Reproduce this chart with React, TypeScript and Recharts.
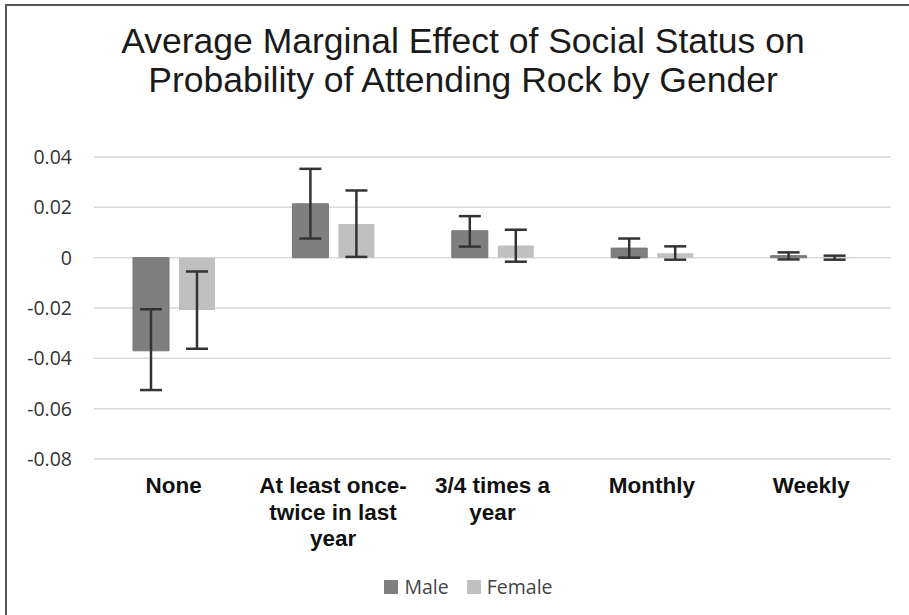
import React from "react";
import { BarChart, Bar, XAxis, YAxis, CartesianGrid, ErrorBar, Legend } from "recharts";

const categories = [
  "None",
  "At least once-\ntwice in last\nyear",
  "3/4 times a\nyear",
  "Monthly",
  "Weekly",
];
const maleValues = [-0.037, 0.0214, 0.0107, 0.0038, 0.0008];
const maleLow = [-0.0526, 0.0076, 0.0044, 0.0, -0.0007];
const maleHigh = [-0.0205, 0.0353, 0.0165, 0.0076, 0.0021];
const femaleValues = [-0.0208, 0.0134, 0.0048, 0.0018, 0.0001];
const femaleLow = [-0.0362, 0.0003, -0.0016, -0.0008, -0.0008];
const femaleHigh = [-0.0055, 0.0267, 0.0111, 0.0045, 0.0008];
const yTicks = [-0.08, -0.06, -0.04, -0.02, 0, 0.02, 0.04];
const seriesOrder = ["Male", "Female"];
const titleLines = [
  "Average Marginal Effect of Social Status on",
  "Probability of Attending Rock by Gender",
];

const MALE_COLOR = "#7f7f7f";
const FEMALE_COLOR = "#c0c0c0";

const data = categories.map((c, i) => ({
  category: c,
  Male: maleValues[i],
  Female: femaleValues[i],
  maleErr: [maleValues[i] - maleLow[i], maleHigh[i] - maleValues[i]],
  femaleErr: [femaleValues[i] - femaleLow[i], femaleHigh[i] - femaleValues[i]],
}));

const CategoryTick = (props: any) => {
  const { x, y, payload } = props;
  const lines = String(payload.value).split("\n");
  return (
    <text
      x={x}
      y={y + 34}
      textAnchor="middle"
      fontFamily="'Liberation Sans', Arial, sans-serif"
      fontWeight="bold"
      fontSize={22.5}
      fill="#111"
    >
      {lines.map((l, i) => (
        <tspan key={i} x={x} dy={i === 0 ? 0 : 26.5}>
          {l}
        </tspan>
      ))}
    </text>
  );
};

const LegendContent = (props: any) => {
  const payload = [...(props.payload || [])].sort(
    (a: any, b: any) => seriesOrder.indexOf(a.value) - seriesOrder.indexOf(b.value)
  );
  return (
    <div
      style={{
        display: "flex",
        justifyContent: "center",
        alignItems: "center",
        fontFamily: "'Open Sans', sans-serif",
        fontSize: 19.5,
        color: "#444",
        paddingLeft: 28,
      }}
    >
      {payload.map((p: any, i: number) => (
        <div key={i} style={{ display: "flex", alignItems: "center", marginRight: i === 0 ? 18 : 0 }}>
          <div style={{ width: 14, height: 14, background: p.color, marginRight: 6 }} />
          <span>{p.value}</span>
        </div>
      ))}
    </div>
  );
};

export default function App() {
  return (
    <div
      style={{
        position: "absolute",
        left: 0,
        top: 0,
        width: 909,
        height: 615,
        background: "#fff",
        overflow: "hidden",
      }}
    >
      <div
        style={{
          position: "absolute",
          left: 5,
          top: 4,
          width: 920,
          height: 620,
          borderTop: "2px solid #555",
          borderLeft: "2px solid #555",
        }}
      />
      <svg style={{ position: "absolute", left: 0, top: 0 }} width={909} height={110}>
        {titleLines.map((t, i) => (
          <text
            key={i}
            x={463}
            y={53 + i * 39}
            textAnchor="middle"
            fontFamily="'Liberation Sans', Arial, sans-serif"
            fontSize={35.5}
            fill="#1a1a1a"
          >
            {t}
          </text>
        ))}
      </svg>
      <div style={{ position: "absolute", left: 0, top: 0 }}>
        <BarChart
          width={909}
          height={615}
          data={data}
          margin={{ top: 157, right: 18, left: 0, bottom: 56 }}
          barSize={36}
          barGap={10}
        >
          <CartesianGrid horizontal vertical={false} stroke="#d9d9d9" strokeWidth={1.5} />
          <XAxis
            dataKey="category"
            axisLine={false}
            tickLine={false}
            tickSize={0}
            tickMargin={0}
            height={100}
            interval={0}
            tick={<CategoryTick />}
          />
          <YAxis
            width={94}
            domain={[-0.08, 0.04]}
            ticks={yTicks}
            axisLine={false}
            tickLine={false}
            tickSize={0}
            tickMargin={22}
            tickFormatter={(v: number) => (v === 0 ? "0" : v.toFixed(2))}
            tick={{ fontFamily: "'Open Sans', sans-serif", fontSize: 19.5, fill: "#333" }}
          />
          <Legend
            layout="horizontal"
            verticalAlign="middle"
            align="center"
            wrapperStyle={{ position: "absolute", top: 573, left: 0, width: 909 }}
            content={<LegendContent />}
          />
          <Bar dataKey="Male" fill={MALE_COLOR} stroke="#767676" strokeWidth={1} isAnimationActive={false}>
            <ErrorBar dataKey="maleErr" width={11} strokeWidth={2.5} stroke="#333" direction="y" />
          </Bar>
          <Bar dataKey="Female" fill={FEMALE_COLOR} isAnimationActive={false}>
            <ErrorBar dataKey="femaleErr" width={11} strokeWidth={2.5} stroke="#333" direction="y" />
          </Bar>
        </BarChart>
      </div>
    </div>
  );
}
